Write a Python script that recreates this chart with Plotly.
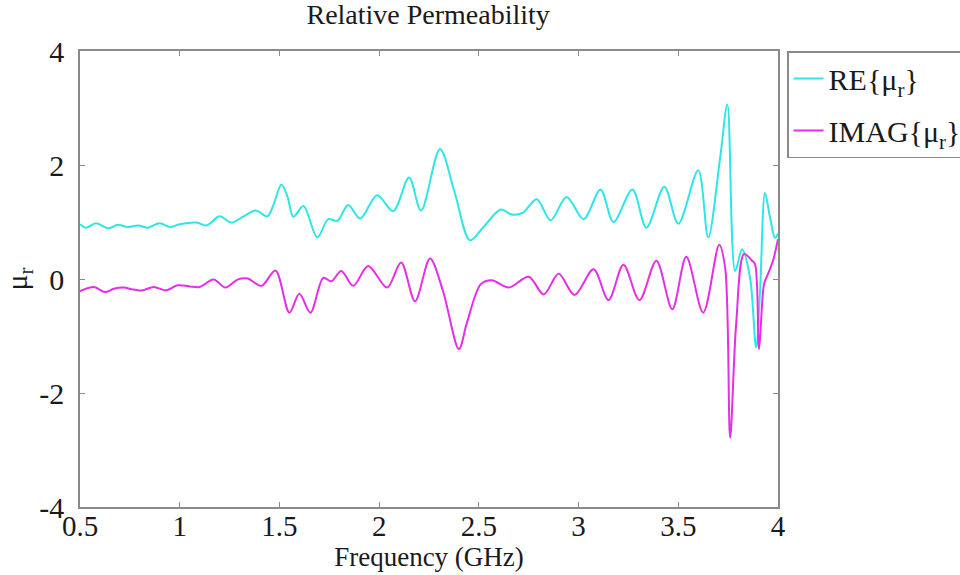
import plotly.graph_objects as go

# Frequency (GHz) and values
freq_re = [0.50, 0.53, 0.58, 0.64, 0.69, 0.74, 0.79, 0.84, 0.90, 0.95, 1.00, 1.085, 1.135,
           1.20, 1.26, 1.32, 1.38, 1.44, 1.47, 1.51, 1.54, 1.57, 1.62, 1.69, 1.745, 1.79,
           1.845, 1.905, 1.99, 2.07, 2.15, 2.21, 2.305, 2.38, 2.455, 2.52, 2.61, 2.665,
           2.72, 2.79, 2.86, 2.94, 3.025, 3.11, 3.175, 3.27, 3.34, 3.43, 3.50, 3.60, 3.65,
           3.71, 3.746, 3.785, 3.82, 3.86, 3.89, 3.91, 3.935, 3.96, 3.985, 4.00]
re_mu = [0.96, 0.90, 0.98, 0.89, 0.95, 0.91, 0.94, 0.90, 0.98, 0.91, 0.96, 0.99, 0.94,
         1.10, 0.99, 1.10, 1.20, 1.10, 1.30, 1.66, 1.45, 1.09, 1.28, 0.73, 1.05, 1.02,
         1.30, 1.06, 1.47, 1.19, 1.78, 1.20, 2.28, 1.50, 0.68, 0.90, 1.22, 1.13,
         1.16, 1.40, 1.03, 1.44, 1.05, 1.57, 1.00, 1.57, 0.90, 1.62, 0.97, 1.91, 0.73,
         2.13, 3.06, 0.14, 0.52, 0.02, -1.20, -0.21, 1.51, 1.08, 0.72, 0.80]

freq_im = [0.50, 0.57, 0.625, 0.67, 0.72, 0.76, 0.81, 0.87, 0.93, 0.99, 1.05, 1.10, 1.17,
           1.23, 1.29, 1.34, 1.41, 1.48, 1.55, 1.60, 1.655, 1.72, 1.76, 1.81, 1.87, 1.945,
           2.04, 2.11, 2.18, 2.255, 2.32, 2.40, 2.44, 2.51, 2.565, 2.65, 2.75, 2.825, 2.90,
           2.98, 3.075, 3.15, 3.225, 3.305, 3.39, 3.47, 3.54, 3.625, 3.705, 3.735, 3.76,
           3.79, 3.83, 3.87, 3.885, 3.905, 3.93, 3.95, 3.975, 4.00]
im_mu = [-0.21, -0.14, -0.23, -0.17, -0.15, -0.18, -0.20, -0.14, -0.20, -0.11, -0.13, -0.14, -0.01,
         -0.15, -0.01, 0.01, -0.12, 0.15, -0.59, -0.26, -0.59, 0.02, -0.04, 0.14, -0.12, 0.23,
         -0.15, 0.29, -0.39, 0.36, -0.21, -1.23, -0.77, -0.09, -0.02, -0.15, 0.04, -0.27, 0.09,
         -0.28, 0.17, -0.37, 0.25, -0.37, 0.32, -0.53, 0.39, -0.59, 0.60, 0.20, -2.78,
         -0.80, 0.44, 0.32, 0.26, -1.23, -0.09, 0.09, 0.32, 0.70]

x_ticks = [0.5, 1, 1.5, 2, 2.5, 3, 3.5, 4]
x_tick_labels = ["0.5", "1", "1.5", "2", "2.5", "3", "3.5", "4"]
y_ticks = [-4, -2, 0, 2, 4]
y_tick_labels = ["-4", "-2", "0", "2", "4"]

FONT = "Liberation Serif, Times New Roman, serif"
AXIS_COLOR = "#8a8a8a"
TEXT = "#1a1a1a"

fig = go.Figure()
fig.add_trace(go.Scatter(x=freq_re, y=re_mu, mode="lines", name="RE{μ<sub>r</sub>}",
                         legendgroup="re",
                         line=dict(color="#2ee6e6", width=2, shape="spline", smoothing=0.9)))
fig.add_trace(go.Scatter(x=freq_im, y=im_mu, mode="lines", name="IMAG{μ<sub>r</sub>}",
                         legendgroup="im",
                         line=dict(color="#e62ee6", width=2, shape="spline", smoothing=0.9)))

fig.update_layout(
    width=960, height=575,
    margin=dict(l=80, r=182, t=51, b=68, autoexpand=False),
    paper_bgcolor="white", plot_bgcolor="white",
    font=dict(family=FONT, size=28, color=TEXT),
    title=dict(text="Relative Permeability", x=0.446, xanchor="center", y=0.976, yanchor="middle",
               font=dict(family=FONT, size=28, color=TEXT)),
    legend=dict(x=1.013, y=1.0, xanchor="left", yanchor="top",
                bordercolor=AXIS_COLOR, borderwidth=1.5, bgcolor="white",
                font=dict(family=FONT, size=30, color=TEXT),
                itemwidth=30, tracegroupgap=10),
    showlegend=True,
)
fig.update_xaxes(range=[0.5, 4], tickvals=x_ticks, ticktext=x_tick_labels,
                 showgrid=False, zeroline=False, showline=True, linecolor=AXIS_COLOR,
                 linewidth=1.5, mirror="ticks", ticks="inside", ticklen=5, tickcolor=AXIS_COLOR,
                 ticklabelstandoff=-8,
                 tickfont=dict(family=FONT, size=29, color=TEXT),
                 title=dict(text="Frequency (GHz)", standoff=0,
                            font=dict(family=FONT, size=27, color=TEXT)))
fig.update_yaxes(range=[-4, 4], tickvals=y_ticks, ticktext=y_tick_labels,
                 showgrid=False, zeroline=False, showline=True, linecolor=AXIS_COLOR,
                 linewidth=1.5, mirror="ticks", ticks="inside", ticklen=5, tickcolor=AXIS_COLOR,
                 ticklabelstandoff=8,
                 tickfont=dict(family=FONT, size=30, color=TEXT),
                 title=dict(text="μ<sub>r</sub>", standoff=4,
                            font=dict(family=FONT, size=30, color=TEXT)))

fig.write_html("out.html")
